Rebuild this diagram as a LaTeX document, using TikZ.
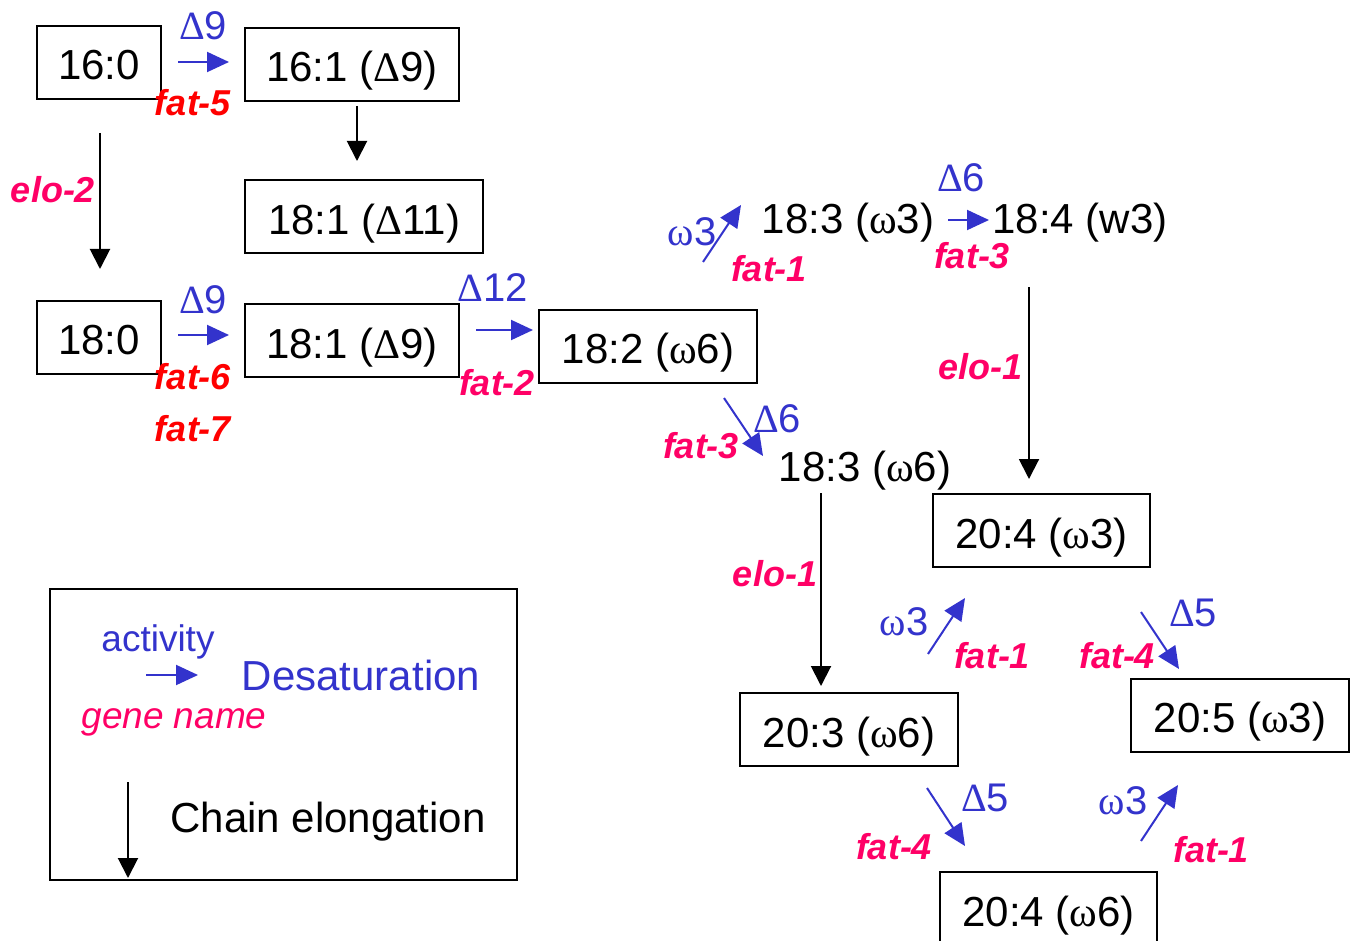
\documentclass[tikz,border=0pt]{standalone}
\usepackage{fontspec}
\setmainfont{Liberation Sans}
\newfontfamily\grk{Liberation Serif}
\usetikzlibrary{positioning, arrows.meta}

\definecolor{desblue}{RGB}{51,51,204}
\definecolor{genepink}{RGB}{255,0,102}
\definecolor{genered}{RGB}{255,0,0}

\newcommand{\Dlt}{{\grk Δ}}
\newcommand{\omg}{{\grk ω}}

\tikzset{
	fa/.style={draw, line width=2pt, inner sep=0pt, minimum height=73pt,
		text height=35pt, text depth=0pt,
		font=\fontsize{42}{50}\selectfont},
	fafree/.style={inner sep=0pt, font=\fontsize{42}{50}\selectfont},
	act/.style={inner sep=0pt, text=desblue, font=\fontsize{40}{48}\selectfont},
	gene/.style={inner sep=0pt, text=genepink,
		font=\fontsize{36}{44}\selectfont\bfseries\itshape},
	genered/.style={gene, text=genered},
	desat/.style={draw=desblue, line width=2pt, -{Triangle[length=22pt,width=20pt]}},
	elong/.style={draw=black, line width=2pt, -{Triangle[length=20pt,width=20pt]}},
}

\begin{document}
\begin{tikzpicture}[x=1pt,y=-1pt]
		\useasboundingbox (0,0) rectangle (1351,941);

		% saturated and mono-unsaturated
		\node[fa, minimum width=124pt] (c160) at (99,62.5) {16:0};
		\node[fa, minimum width=214pt] (c161d9) at (352,64.5) {16:1 (\Dlt9)};
		\node[fa, minimum width=238pt] (c181d11) at (364,217) {18:1 (\Dlt11)};
		\node[fa, minimum width=124pt] (c180) at (99,337) {18:0};
		\node[fa, minimum width=214pt] (c181d9) at (352,340.5) {18:1 (\Dlt9)};

		% 18 carbon poly-unsaturated
		\node[fa, minimum width=218pt] (c182) at (648,346) {18:2 (\omg6)};
		\node[fafree] (c183w3) at (848,223) {18:3 (\omg3)};
		\node[fafree] (c184) at (1080,223) {18:4 (w3)};
		\node[fafree] (c183w6) at (865,471) {18:3 (\omg6)};

		% 20 carbon
		\node[fa, minimum width=217pt] (c204w3) at (1041.5,530.5) {20:4 (\omg3)};
		\node[fa, minimum width=218pt] (c203) at (849,729.5) {20:3 (\omg6)};
		\node[fa, minimum width=218pt] (c205) at (1240,715) {20:5 (\omg3)};
		\node[fa, minimum width=217pt] (c204w6) at (1048.5,908.5) {20:4 (\omg6)};

		% arrow ends
		\coordinate (d1s) at (178,62);   \coordinate (d1e) at (229,62);
		\coordinate (d2s) at (178,335);  \coordinate (d2e) at (229,335);
		\coordinate (d3s) at (476,330);  \coordinate (d3e) at (533,330);
		\coordinate (d4s) at (703,262);  \coordinate (d4e) at (741,205);
		\coordinate (d5s) at (948,220);  \coordinate (d5e) at (989,220);
		\coordinate (d6s) at (724,398);  \coordinate (d6e) at (763,456);
		\coordinate (d7s) at (928,654);  \coordinate (d7e) at (965,598);
		\coordinate (d8s) at (1141,612); \coordinate (d8e) at (1179,669);
		\coordinate (d9s) at (927,788);  \coordinate (d9e) at (965,846);
		\coordinate (d10s) at (1141,841); \coordinate (d10e) at (1178,785);

		\coordinate (e1s) at (100,133);  \coordinate (e1e) at (100,269);
		\coordinate (e2s) at (357,106);  \coordinate (e2e) at (357,161);
		\coordinate (e3s) at (1029,287); \coordinate (e3e) at (1029,479);
		\coordinate (e4s) at (821,493);  \coordinate (e4e) at (821,686);

		% desaturation
		\draw[desat] (d1s) -- (d1e);
		\node[act] (d1act) at (203,26) {\Dlt9};
		\node[genered] (d1gene) at (193,103) {fat-5};

		\draw[desat] (d2s) -- (d2e);
		\node[act] (d2act) at (203,300) {\Dlt9};
		\node[genered] (d2gene) at (193,377) {fat-6};
		\node[genered] (d2geneb) at (193,429) {fat-7};

		\draw[desat] (d3s) -- (d3e);
		\node[act] (d3act) at (493,288) {\Dlt12};
		\node[gene] (d3gene) at (497,383) {fat-2};

		\draw[desat] (d4s) -- (d4e);
		\node[act] (d4act) at (692,232) {\omg3};
		\node[gene] (d4gene) at (769,269) {fat-1};

		\draw[desat] (d5s) -- (d5e);
		\node[act] (d5act) at (961,178) {\Dlt6};
		\node[gene] (d5gene) at (972,256) {fat-3};

		\draw[desat] (d6s) -- (d6e);
		\node[act] (d6act) at (777,419) {\Dlt6};
		\node[gene] (d6gene) at (701,446) {fat-3};

		\draw[desat] (d7s) -- (d7e);
		\node[act] (d7act) at (904,622) {\omg3};
		\node[gene] (d7gene) at (992,656) {fat-1};

		\draw[desat] (d8s) -- (d8e);
		\node[act] (d8act) at (1193,613) {\Dlt5};
		\node[gene] (d8gene) at (1117,656) {fat-4};

		\draw[desat] (d9s) -- (d9e);
		\node[act] (d9act) at (985,798) {\Dlt5};
		\node[gene] (d9gene) at (894,847) {fat-4};

		\draw[desat] (d10s) -- (d10e);
		\node[act] (d10act) at (1123,801) {\omg3};
		\node[gene] (d10gene) at (1211,850) {fat-1};

		% elongation
		\draw[elong] (e1s) -- (e1e);
		\node[gene] (e1gene) at (53,190) {elo-2};
		\draw[elong] (e2s) -- (e2e);
		\draw[elong] (e3s) -- (e3e);
		\node[gene] (e3gene) at (980,367) {elo-1};
		\draw[elong] (e4s) -- (e4e);
		\node[gene] (e4gene) at (775,574) {elo-1};

		% legend
		\node[draw, line width=2pt, minimum width=467pt, minimum height=291pt,
			inner sep=0pt] (legend) at (283.5,734.5) {};
		\coordinate (lds) at (146,675); \coordinate (lde) at (198,675);
		\coordinate (les) at (128,782); \coordinate (lee) at (128,878);
		\draw[desat] (lds) -- (lde);
		\node[act, font=\fontsize{37}{44}\selectfont, anchor=base] (lact) at (158,651) {activity};
		\node[gene, font=\fontsize{37}{44}\selectfont\itshape, anchor=base] (lgene) at (174,728) {gene name};
		\node[act, font=\fontsize{42}{50}\selectfont, anchor=base] (ldesat) at (361,690) {Desaturation};
		\draw[elong] (les) -- (lee);
		\node[fafree, anchor=base] (lelong) at (328,832) {Chain elongation};

	\end{tikzpicture}
\end{document}
